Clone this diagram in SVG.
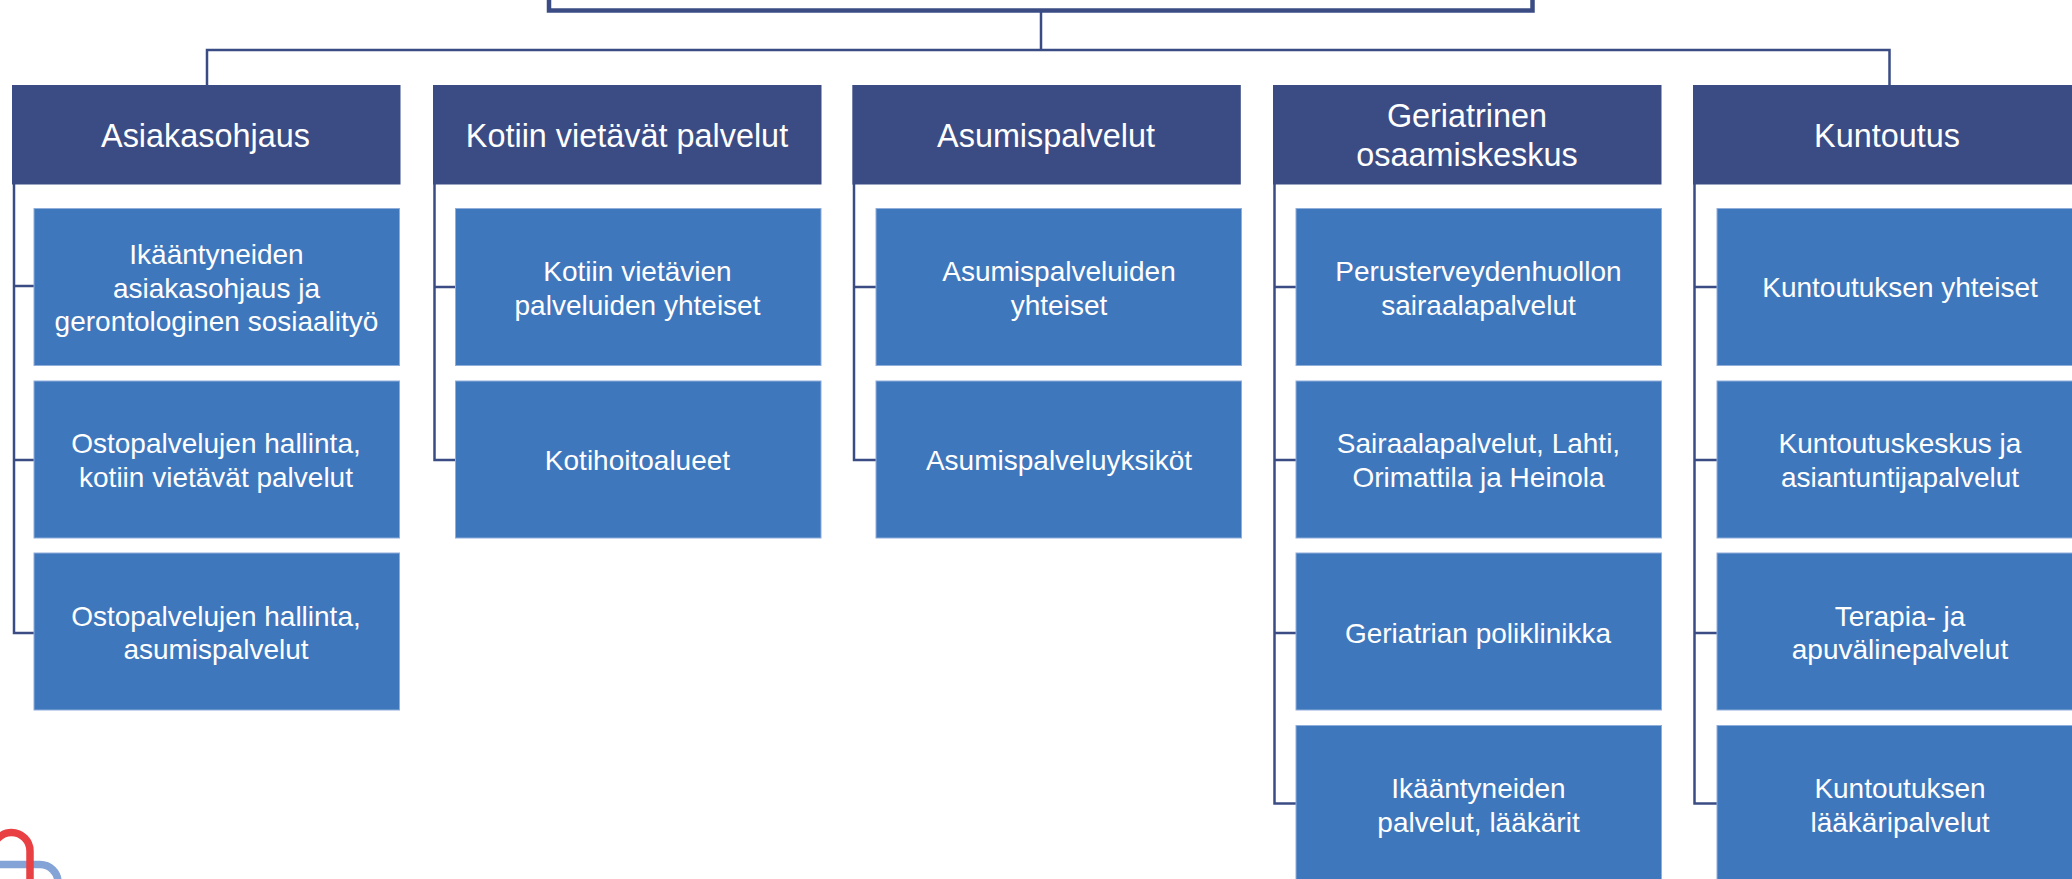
<svg xmlns="http://www.w3.org/2000/svg" width="2072" height="879" viewBox="0 0 2072 879">
<style>
.h{fill:#3B4C85}
.c{fill:#3F77BD;stroke:#8FAEDA;stroke-width:1}
.l{fill:none;stroke:#3B4C85;stroke-width:2.5}
text{font-family:"Liberation Sans",Arial,sans-serif;fill:#fff;text-anchor:middle}
.ht{font-size:32.4px}
.ct{font-size:28px}
</style>
<rect width="2072" height="879" fill="#fff"/>
<g id="logo" fill="none" stroke-width="7.5">
<path d="M0 864.500H40A18 18 0 0 1 58 882.500" stroke="#84A4D8"/>
<path d="M-7 851A18.500 18.500 0 0 1 30 851V885" stroke="#E94044"/>
</g>
<g id="connectors" class="l">
<path d="M1041 12V50M207 85V50H1889.500V85"/>
<path d="M14 184V286H34M14 286V460H34M14 460V633H34"/>
<path d="M434.500 184V287H456M434.500 287V460H456"/>
<path d="M854 184V287H876M854 287V460H876"/>
<path d="M1274.500 184V287H1296M1274.500 287V460H1296M1274.500 460V633H1296M1274.500 633V803.500H1296"/>
<path d="M1694.500 184V287H1717M1694.500 287V460H1717M1694.500 460V633H1717M1694.500 633V803.500H1717"/>
</g>
<g id="root"><rect x="549" y="-20" width="983.500" height="30.500" fill="#fff" stroke="#3B4C85" stroke-width="4.500"/></g>
<g id="asiakasohjaus"><rect class="h" x="12" y="85" width="388.500" height="99.500"/><text class="ht" x="205.500" y="146.500">Asiakasohjaus</text></g>
<g id="kotiin"><rect class="h" x="433" y="85" width="388.500" height="99.500"/><text class="ht" x="627" y="146.500">Kotiin vietävät palvelut</text></g>
<g id="asumis"><rect class="h" x="852.300" y="85" width="388.500" height="99.500"/><text class="ht" x="1046" y="146.500">Asumispalvelut</text></g>
<g id="geriatrinen"><rect class="h" x="1273" y="85" width="388.500" height="99.500"/><text class="ht" x="1467" y="126.500">Geriatrinen</text><text class="ht" x="1467" y="165.500">osaamiskeskus</text></g>
<g id="kuntoutus"><rect class="h" x="1693" y="85" width="388.500" height="99.500"/><text class="ht" x="1887" y="146.500">Kuntoutus</text></g>
<g id="a1"><rect class="c" x="34" y="208.500" width="365.500" height="157"/><text class="ct" x="216.500" y="264">Ikääntyneiden</text><text class="ct" x="216.500" y="297.500">asiakasohjaus ja</text><text class="ct" x="216.500" y="331">gerontologinen sosiaalityö</text></g>
<g id="a2"><rect class="c" x="34" y="381" width="365.500" height="157"/><text class="ct" x="216" y="453">Ostopalvelujen hallinta,</text><text class="ct" x="216" y="486.500">kotiin vietävät palvelut</text></g>
<g id="a3"><rect class="c" x="34" y="553" width="365.500" height="157"/><text class="ct" x="216" y="625.500">Ostopalvelujen hallinta,</text><text class="ct" x="216" y="659">asumispalvelut</text></g>
<g id="k1"><rect class="c" x="455.500" y="208.500" width="365.500" height="157"/><text class="ct" x="637.500" y="281">Kotiin vietävien</text><text class="ct" x="637.500" y="314.500">palveluiden yhteiset</text></g>
<g id="k2"><rect class="c" x="455.500" y="381" width="365.500" height="157"/><text class="ct" x="637.500" y="470">Kotihoitoalueet</text></g>
<g id="s1"><rect class="c" x="876" y="208.500" width="365.500" height="157"/><text class="ct" x="1059" y="281">Asumispalveluiden</text><text class="ct" x="1059" y="314.500">yhteiset</text></g>
<g id="s2"><rect class="c" x="876" y="381" width="365.500" height="157"/><text class="ct" x="1059" y="470">Asumispalveluyksiköt</text></g>
<g id="g1"><rect class="c" x="1296" y="208.500" width="365.500" height="157"/><text class="ct" x="1478.500" y="281">Perusterveydenhuollon</text><text class="ct" x="1478.500" y="314.500">sairaalapalvelut</text></g>
<g id="g2"><rect class="c" x="1296" y="381" width="365.500" height="157"/><text class="ct" x="1478.500" y="453">Sairaalapalvelut, Lahti,</text><text class="ct" x="1478.500" y="486.500">Orimattila ja Heinola</text></g>
<g id="g3"><rect class="c" x="1296" y="553" width="365.500" height="157"/><text class="ct" x="1478" y="642.500">Geriatrian poliklinikka</text></g>
<g id="g4"><rect class="c" x="1296" y="725.500" width="365.500" height="157"/><text class="ct" x="1478.500" y="798">Ikääntyneiden</text><text class="ct" x="1478.500" y="831.500">palvelut, lääkärit</text></g>
<g id="u1"><rect class="c" x="1717" y="208.500" width="366" height="157"/><text class="ct" x="1900" y="297">Kuntoutuksen yhteiset</text></g>
<g id="u2"><rect class="c" x="1717" y="381" width="366" height="157"/><text class="ct" x="1900" y="453">Kuntoutuskeskus ja</text><text class="ct" x="1900" y="486.500">asiantuntijapalvelut</text></g>
<g id="u3"><rect class="c" x="1717" y="553" width="366" height="157"/><text class="ct" x="1900" y="625.500">Terapia- ja</text><text class="ct" x="1900" y="659">apuvälinepalvelut</text></g>
<g id="u4"><rect class="c" x="1717" y="725.500" width="366" height="157"/><text class="ct" x="1900" y="798">Kuntoutuksen</text><text class="ct" x="1900" y="831.500">lääkäripalvelut</text></g>
</svg>
